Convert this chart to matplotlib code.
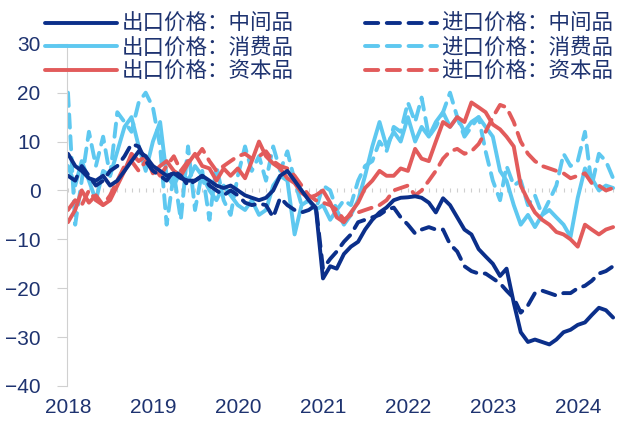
import pandas as pd
import matplotlib
matplotlib.use('Agg')
import matplotlib.pyplot as plt
import matplotlib.dates as mdates
from matplotlib.ticker import NullFormatter

# monthly, Jan 2018 - Jun 2024 (yoy %)
months = pd.date_range('2018-01-01', periods=78, freq='MS')

exp_inter = [7.5, 5, 4, 2.5, 2, 3, 1, 2, 4, 6, 8, 7,
             5, 4, 3, 3.5, 2.5, 2, 2, 3, 2, 1, 0.5, 1,
             0, -1, -1.5, -2, -1.5, 0, 3, 4, 2, 0, -2, -3.5,
             -18, -15.5, -16, -13, -11.5, -10.5, -8, -6, -4.5, -3.5, -2, -1.5,
             -1.4, -1.2, -1.5, -2.5, -4.5, -1.6, -3, -5.5, -8, -9, -12, -13.5,
             -15, -17.5, -16, -23, -29, -31, -30.5, -31, -31.5, -30.5, -29, -28.5,
             -27.5, -27, -25.5, -24, -24.5, -26]
imp_inter = [3, 2, 5, 3, 1, 2, 4, 5, 7, 9.5, 9, 6,
             4, 3, 2, 4, 3, 1, 2, 3, 1, 0, -1, 0,
             -1, -2.5, -3, -2.7, -3, -5.5, -1.5, -3, -4, -4.5, -4, -3,
             -16, -14, -12.5, -10.5, -9, -6.5, -6, -5.5, -5, -4, -3.5, -5.5,
             -7, -8.8, -8, -7.5, -8, -8, -11, -12.5, -15.5, -16.5, -17, -17,
             -18, -19, -20.5, -22, -25, -23.5, -21, -20.5, -21, -21.5, -21, -21,
             -20, -19.5, -18.5, -17, -16.5, -15.5]
exp_cons = [5, 1, 6, 2, -2, 4, 3, 8, 13, 15, 9, 4,
            10, 14, 3, 1, 4, 2, 5, 3, 0, -2, 1, -1,
            -3, -4, -2, -5, -4, 1, 3, 2, -9, -3, -2, -4,
            -3, -6, -4, -7, -5, -2, 3, 9, 14, 9, 12, 10,
            15, 10, 13, 11, 14, 16, 13, 15, 12, 14, 15, 13,
            11, 4, 2, -3, -7, -5, -7.5, -5, -4, -5.5, -7, -9.5,
            -1.5, 4.5, 2.5, 0, 1, 0.5]
imp_cons = [20, -7, 2, 12, 5, 11, 3, 16, 14, 12, 18, 20,
            17, 9, -7, 3.5, -6, 9, -4, 4, -6, 5, -2, -5,
            3, 9, 4, 7, 2, 9, 4, 8, 2, -3, -2, -4,
            1, 0, -4, -2, -3, 2, 5, 6, 10, 8, 13, 12,
            18, 14, 19, 11, 13, 16, 20, 15, 11, 13, 15, 8,
            2, -2, 5, 1, 2, -3, -1, -5, -2, 1, 7.5, 5,
            6, 12, 1, 7.5, 6, 2.5]
exp_cap = [-6.5, -4, 0, -2.5, -1, -3, -2, 1, 4, 7.5, 6, 7,
           3.5, 5, 6, 4, 3, 5.5, 7.5, 5, 4.5, 2, 4.5, 3,
           4.5, 2.5, 6, 10, 7, 5.5, 4.5, 2.5, 1.5, -0.5, -1.5, -1,
           0, -2.5, -5.5, -6.5, -4.5, -2.5, 0.5, 2, 4, 3, 3, 4.5,
           4, 8.5, 6.5, 6, 10, 14, 13, 15, 14, 18, 17, 16,
           13.5, 12.5, 11, 9, 1, -2, -4.5, -6, -7, -8.5, -9, -10,
           -11.5, -7, -8, -9, -8, -7.5]
imp_cap = [-4, -2, -3, 0, -2, -3, -1, 2, 5, 6, 4, 6,
           5, 3, 5, 7, 4, 6, 6.5, 8.5, 6, 4, 5, 6,
           7, 7.5, 6.5, 7, 8, 6, 5, 4.5, 3, 1, -1, -2,
           -2.5, -3, -4, -6, -5, -4.5, -4, -3.5, -3, -2, 0, 0.5,
           1, -1, 0, 2, 4, 6.5, 8, 8.5, 7.5, 8, 9.5, 12,
           15, 17.5, 17, 14, 10, 7.5, 6, 5, 4.5, 4, 3.5, 2.5,
           3, 3.5, 1.5, 1, 0, 0.5]

year_labels = ['2018', '2019', '2020', '2021', '2022', '2023', '2024']

navy = '#0b2f8a'
sky = '#5ec8f0'
red = '#e25b5b'
txt = '#1e3370'

fig = plt.figure(figsize=(6.18, 4.23), dpi=100)
ax = fig.add_axes([0.1085, 0.0875, 0.8915, 0.809])

lw = 2.8
dash = (3.4, 2.2)
kw = dict(lw=lw, dash_capstyle='round', solid_capstyle='round')
l_ic, = ax.plot(months, imp_cons, color=sky, dashes=dash, **kw)
l_ec, = ax.plot(months, exp_cons, color=sky, **kw)
l_ik, = ax.plot(months, imp_cap, color=red, dashes=dash, **kw)
l_ek, = ax.plot(months, exp_cap, color=red, **kw)
l_ii, = ax.plot(months, imp_inter, color=navy, dashes=dash, **kw)
l_ei, = ax.plot(months, exp_inter, color=navy, **kw)

ax.set_ylim(-40, 30)
ax.set_yticks(range(-40, 31, 10))
ax.set_xlim(pd.Timestamp('2017-12-28'), pd.Timestamp('2024-06-22'))
ax.set_xticks(pd.date_range('2018-01-01', periods=7, freq='12MS'))
ax.set_xticklabels(year_labels)

for s in ['top', 'right', 'bottom']:
    ax.spines[s].set_visible(False)
ax.spines['left'].set_color('#d0d0d0')
ax.tick_params(axis='y', colors='#d0d0d0', labelcolor=txt, length=7,
               labelsize=15, pad=12)
ax.tick_params(axis='x', length=0, labelcolor=txt, labelsize=15, pad=9)
for lab in ax.get_xticklabels() + ax.get_yticklabels():
    lab.set_family(['Liberation Sans', 'DejaVu Sans'])

# zero line with monthly ticks
zero = ax.secondary_xaxis(40 / 70)
zero.spines['bottom'].set_color('#cfcfcf')
zero.spines['top'].set_visible(False)
zero.xaxis.set_major_locator(mdates.MonthLocator())
zero.xaxis.set_major_formatter(NullFormatter())
zero.tick_params(axis='x', length=3, direction='inout', colors='#cfcfcf')

handles = [l_ei, l_ec, l_ek, l_ii, l_ic, l_ik]
labels = ['出口价格：中间品', '出口价格：消费品', '出口价格：资本品',
          '进口价格：中间品', '进口价格：消费品', '进口价格：资本品']
leg = fig.legend(handles, labels, ncol=2, frameon=False, loc='upper left',
                 bbox_to_anchor=(45 / 618, 0.969), handlelength=3.35,
                 handletextpad=0.2, columnspacing=3.33, labelspacing=0.085,
                 borderpad=0, borderaxespad=0,
                 prop={'family': 'Noto Sans CJK SC', 'size': 15.5})
for t in leg.get_texts():
    t.set_color(txt)

fig.savefig('out.png', dpi=100)
